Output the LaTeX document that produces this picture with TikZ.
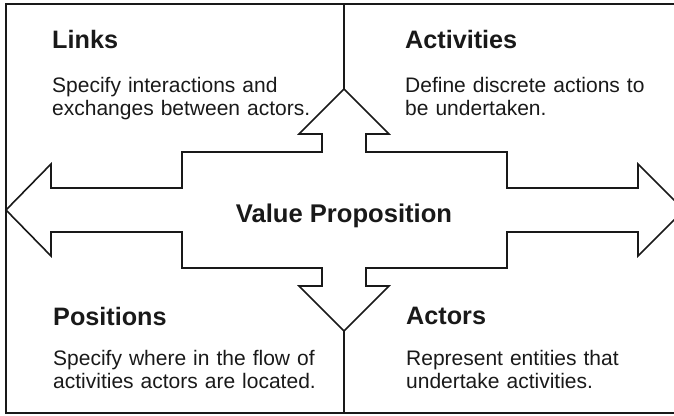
\documentclass[tikz,border=0pt]{standalone}
\usepackage{fontspec}
\setmainfont{Liberation Sans}
\begin{document}
\begin{tikzpicture}[x=1pt,y=-1pt,
  frame/.style={draw=black!90,line width=1.6pt},
  shaft/.style={draw=black!90,line width=1.6pt,line join=miter,fill=white},
  ttl/.style={anchor=base west,inner sep=0pt,font=\fontsize{25.2}{28}\selectfont\bfseries,text=black!90},
  body/.style={anchor=base west,inner sep=0pt,text width=300pt,align=left,font=\fontsize{21}{23.5}\selectfont,text=black!90},
  vp/.style={anchor=base,inner sep=0pt,font=\fontsize{25.6}{28}\selectfont\bfseries,text=black!90}]
\useasboundingbox (0,0) rectangle (674,415);
\clip (0,0) rectangle (674,415);
% frame
\draw[frame] (6,4) rectangle (684,413);
\coordinate (topmid) at (344,4);
\coordinate (botmid) at (344,413);
\coordinate (uptip) at (344,89);
\coordinate (dntip) at (344,331);
\draw[frame] (topmid) -- (uptip);
\draw[frame] (dntip) -- (botmid);
% cross arrow
\draw[shaft] (6,210) -- (51,164) -- (51,188) -- (182,188) -- (182,152) -- (322,152) -- (322,134) -- (299,134)
  -- (uptip) -- (389,134) -- (366,134) -- (366,152) -- (507,152) -- (507,188) -- (638,188) -- (638,164)
  -- (684,210) -- (638,256) -- (638,232) -- (507,232) -- (507,268) -- (366,268) -- (366,286) -- (389,286)
  -- (dntip) -- (299,286) -- (322,286) -- (322,268) -- (182,268) -- (182,232) -- (51,232) -- (51,256) -- cycle;
% texts
\node[ttl] (links) at (52,48) {Links};
\node[body] (linksb) at (52,92) {Specify interactions and\\exchanges between actors.};
\node[ttl] (act) at (405,48) {Activities};
\node[body] (actb) at (405,92) {Define discrete actions to\\be undertaken.};
\node[ttl] (pos) at (53,325) {Positions};
\node[body] (posb) at (53,365) {Specify where in the flow of\\activities actors are located.};
\node[ttl] (actors) at (406,324) {Actors};
\node[body] (actorsb) at (406,365) {Represent entities that\\undertake activities.};
\node[vp] (value) at (344,222) {Value Proposition};
\end{tikzpicture}
\end{document}
